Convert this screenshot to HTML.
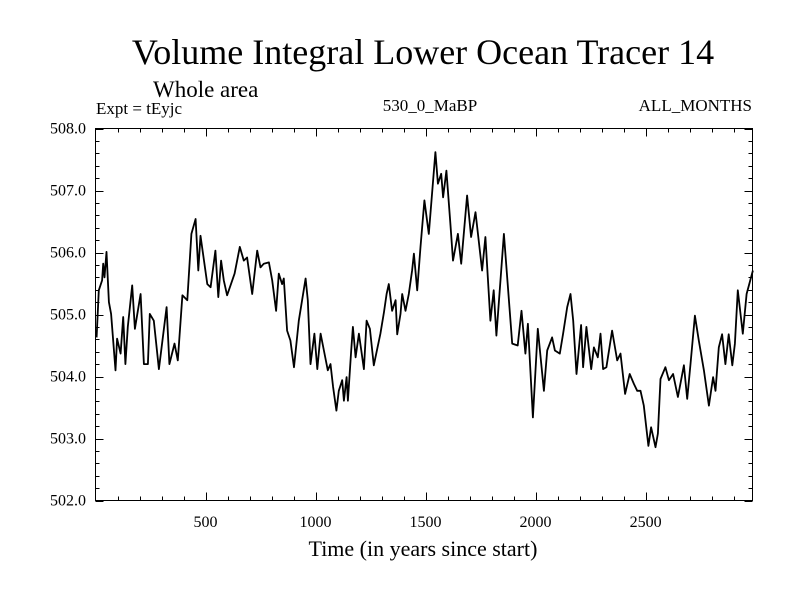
<!DOCTYPE html>
<html><head><meta charset="utf-8"><style>
html,body{margin:0;padding:0;background:#fff;}
svg{display:block;font-family:"Liberation Serif",serif;}
</style></head><body>
<svg id="chart" width="800" height="600" viewBox="0 0 800 600">
<rect width="800" height="600" fill="#fff"/>
<text x="423" y="64" font-size="36" text-anchor="middle">Volume Integral Lower Ocean Tracer 14</text>
<text x="153" y="97" font-size="23">Whole area</text>
<text x="96" y="114" font-size="17">Expt = tEyjc</text>
<text x="430" y="111" font-size="17" text-anchor="middle">530_0_MaBP</text>
<text x="752" y="111" font-size="17" text-anchor="end">ALL_MONTHS</text>
<text x="423" y="556" font-size="22" text-anchor="middle">Time (in years since start)</text>
<g id="axes"></g>
<path id="series" fill="none" stroke="#000" stroke-width="1.8" stroke-linejoin="round"/>
<rect x="95.5" y="128.5" width="657" height="372" fill="none" stroke="#000" stroke-width="1"/>
</svg>
<script>
const years = [5,15,30,35,41,50,61,71,91,98,114,126,136,147,167,179,205,220,238,247,265,288,323,336,359,374,395,417,436,455,467,477,508,523,545,558,571,583,598,632,656,674,689,712,735,750,765,788,803,821,833,848,856,871,886,902,924,955,965,977,995,1008,1023,1038,1056,1068,1080,1095,1106,1121,1129,1141,1147,1162,1170,1182,1197,1208,1220,1232,1247,1265,1295,1311,1323,1333,1348,1364,1371,1386,1394,1409,1424,1439,1447,1462,1477,1495,1515,1545,1556,1571,1580,1595,1613,1625,1647,1662,1689,1707,1727,1757,1772,1795,1810,1822,1856,1894,1919,1936,1954,1965,1988,2010,2038,2053,2075,2088,2110,2125,2144,2159,2171,2186,2207,2216,2231,2253,2265,2283,2295,2307,2322,2348,2371,2386,2407,2428,2447,2462,2477,2492,2513,2525,2545,2556,2568,2590,2606,2625,2647,2674,2689,2704,2724,2742,2765,2788,2807,2818,2833,2848,2863,2878,2894,2906,2919,2942,2959,2988];
const values = [504.63,505.39,505.55,505.82,505.60,506.01,505.20,505.01,504.10,504.61,504.37,504.96,504.20,504.80,505.47,504.77,505.33,504.20,504.20,505.01,504.90,504.12,505.12,504.20,504.53,504.26,505.31,505.23,506.30,506.54,505.71,506.27,505.49,505.44,506.03,505.28,505.87,505.55,505.31,505.66,506.09,505.87,505.92,505.33,506.03,505.76,505.82,505.84,505.55,505.06,505.66,505.49,505.58,504.74,504.58,504.15,504.90,505.58,505.23,504.20,504.69,504.12,504.69,504.42,504.10,504.20,503.83,503.45,503.77,503.94,503.61,503.99,503.61,504.42,504.80,504.31,504.69,504.42,504.12,504.90,504.77,504.18,504.69,505.04,505.33,505.49,505.06,505.23,504.68,505.01,505.33,505.06,505.33,505.71,505.98,505.39,506.09,506.84,506.30,507.62,507.11,507.27,506.89,507.32,506.46,505.87,506.30,505.82,506.92,506.25,506.65,505.71,506.25,504.90,505.39,504.66,506.30,504.53,504.50,505.06,504.37,504.85,503.34,504.77,503.77,504.42,504.63,504.42,504.37,504.69,505.12,505.33,504.90,504.04,504.83,504.15,504.80,504.12,504.47,504.31,504.69,504.12,504.15,504.74,504.26,504.37,503.72,504.04,503.88,503.77,503.77,503.53,502.88,503.18,502.86,503.08,503.96,504.15,503.94,504.04,503.67,504.18,503.64,504.20,504.98,504.58,504.10,503.53,503.99,503.77,504.47,504.68,504.20,504.68,504.18,504.53,505.39,504.69,505.33,505.71];
const yTickLabels = ["502.0","503.0","504.0","505.0","506.0","507.0","508.0"];
const xTickLabels = ["500","1000","1500","2000","2500"];

const X0=95.5, X1=752.5, Y0=500.5, Y1=128.5;
const xMin=0, xMax=2986, yMin=502, yMax=508;
function sx(v){return X0+(v-xMin)/(xMax-xMin)*(X1-X0);}
function sy(v){return Y0-(v-yMin)/(yMax-yMin)*(Y0-Y1);}
const NS="http://www.w3.org/2000/svg";
const axes=document.getElementById('axes');
function line(x1,y1,x2,y2,name){
  const l=document.createElementNS(NS,'line');
  l.setAttribute('x1',x1);l.setAttribute('y1',y1);l.setAttribute('x2',x2);l.setAttribute('y2',y2);
  l.setAttribute('stroke','#000');l.setAttribute('stroke-width','1');
  
  
  axes.appendChild(l);
}
function text(x,y,s,anchor,name){
  const t=document.createElementNS(NS,'text');
  t.setAttribute('x',x);t.setAttribute('y',y);t.setAttribute('font-size','16');t.setAttribute('text-anchor',anchor);
  t.textContent=s;
  
  
  axes.appendChild(t);
}
for(let i=0;i<=30;i++){
  const v=yMin+i*0.2, y=Math.round(sy(v))+0.5, len=(i%5===0)?8:4;
  line(X0,y,X0+len,y,'y-tick');
  line(X1,y,X1-len,y,'y-tick-right');
}
yTickLabels.forEach(s=>text(86,sy(parseFloat(s))+5,s,'end','y-tick-label'));
for(let v=100;v<xMax;v+=100){
  const x=Math.round(sx(v))+0.5, len=(v%500===0)?8:4;
  line(x,Y0,x,Y0-len,'x-tick');
  line(x,Y1,x,Y1+len,'x-tick-top');
}
xTickLabels.forEach(s=>text(sx(parseFloat(s)),527,s,'middle','x-tick-label'));
let d='';
years.forEach((yr,i)=>{d+=(i?'L':'M')+sx(yr).toFixed(1)+','+sy(values[i]).toFixed(1);});
document.getElementById('series').setAttribute('d',d);
</script>
</body></html>
